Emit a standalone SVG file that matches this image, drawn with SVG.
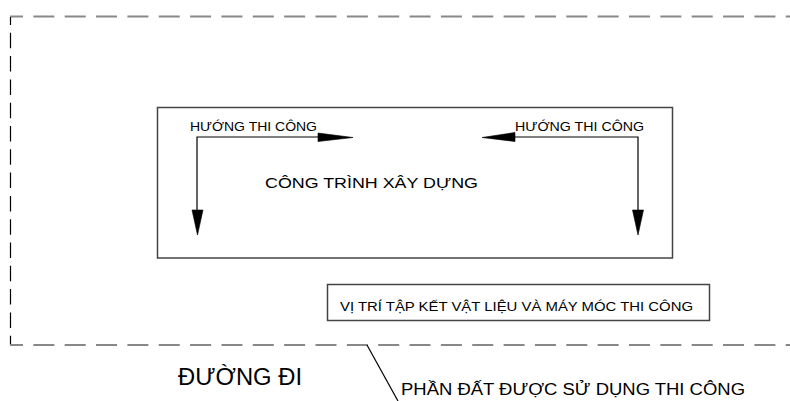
<svg xmlns="http://www.w3.org/2000/svg" width="790" height="401" viewBox="0 0 790 401">
<style>
.bg{fill:#ffffff}
.box{fill:none;stroke:#444444;stroke-width:1.5}
.dash-h{fill:none;stroke:#888888;stroke-width:2;stroke-dasharray:21 10.35;stroke-dashoffset:8}
.dash-v{fill:none;stroke:#000000;stroke-width:1.2;stroke-dasharray:15.5 7.8;stroke-dashoffset:7.5}
.ln{fill:none;stroke:#000000;stroke-width:1.2}
.head{fill:#000000;stroke:#000000;stroke-width:0.6}
text{font-family:"Liberation Sans",Arial,sans-serif;fill:#000000}
.s{font-size:13px}
</style>
<rect class="bg" x="0" y="0" width="790" height="401"/>
<g id="site-boundary">
<line class="dash-h" x1="10" y1="16.5" x2="790" y2="16.5"/>
<line class="dash-v" x1="10.5" y1="17" x2="10.5" y2="345"/>
<line class="dash-h" x1="10" y1="345" x2="790" y2="345"/>
</g>
<g id="construction">
<rect class="box" x="157.5" y="107.5" width="515" height="150.5"/>
<text x="265" y="187.5" font-size="15" textLength="213" lengthAdjust="spacingAndGlyphs">CÔNG TRÌNH XÂY DỰNG</text>
</g>
<g id="direction-left">
<text class="s" x="190" y="131" textLength="127" lengthAdjust="spacingAndGlyphs">HƯỚNG THI CÔNG</text>
</g>
<g id="direction-right">
<text class="s" x="515" y="131" textLength="129" lengthAdjust="spacingAndGlyphs">HƯỚNG THI CÔNG</text>
</g>
<g id="storage">
<rect class="box" x="327.5" y="284.5" width="382" height="36"/>
<text x="340" y="310.5" font-size="12.5" textLength="353" lengthAdjust="spacingAndGlyphs">VỊ TRÍ TẬP KẾT VẬT LIỆU VÀ MÁY MÓC THI CÔNG</text>
</g>
<g id="road">
<text x="178" y="385" font-size="23" textLength="124" lengthAdjust="spacingAndGlyphs">ĐƯỜNG ĐI</text>
</g>
<g id="land-label">
<text x="401" y="395" font-size="16.3" textLength="344" lengthAdjust="spacingAndGlyphs">PHẦN ĐẤT ĐƯỢC SỬ DỤNG THI CÔNG</text>
</g>
<g id="connectors">
<polyline class="ln" points="318,137 197,137 197,210"/>
<polygon class="head" points="318,133 353,137.5 318,141.5"/>
<polygon class="head" points="192,210 203,210 197.5,235"/>
<polyline class="ln" points="515,137 638,137 638,210"/>
<polygon class="head" points="515,132.5 482,137.5 515,141.5"/>
<polygon class="head" points="632.5,210 643.5,210 638,235"/>
<line class="ln" x1="367" y1="345" x2="398" y2="401"/>
</g>
</svg>
